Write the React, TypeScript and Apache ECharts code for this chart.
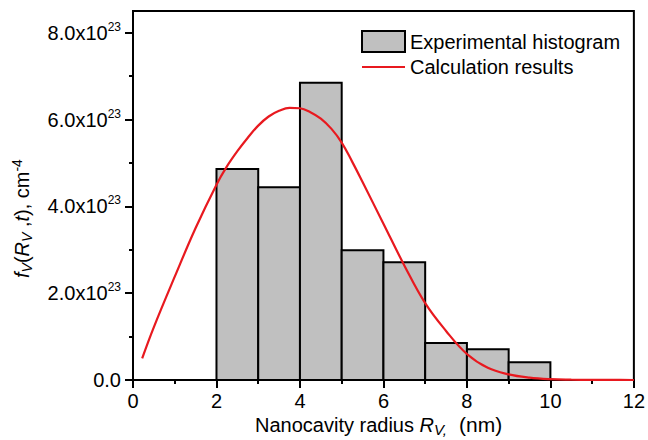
import React, { useEffect, useRef } from "react";
import * as echarts from "echarts";

const FONT = "'Liberation Sans', Arial, Helvetica, sans-serif";

// Histogram bins: [left edge, right edge] in nm, heights in cm^-4
const binStarts = [2, 3, 4, 5, 6, 7, 8, 9];
const binEnds = [3, 4, 5, 6, 7, 8, 9, 10];
const binHeights = [4.86e23, 4.44e23, 6.85e23, 2.99e23, 2.71e23, 0.85e23, 0.71e23, 0.41e23];

// Calculation results curve
const calcX = [0.22, 0.5, 1.0, 1.5, 2.0, 2.25, 2.5, 2.75, 3.0, 3.25, 3.5, 3.75, 4.0, 4.25, 4.5, 4.75, 5.0, 5.25, 5.5, 6.0, 6.5, 7.0, 7.5, 8.0, 8.5, 9.0, 9.5, 10.0, 10.5, 11.0, 11.5, 12.0];
const calcY = [0.5, 1.22, 2.38, 3.5, 4.5, 4.92, 5.27, 5.58, 5.86, 6.07, 6.2, 6.27, 6.26, 6.17, 6.02, 5.79, 5.47, 5.03, 4.56, 3.6, 2.64, 1.77, 1.13, 0.6, 0.28, 0.13, 0.055, 0.02, 0.008, 0.003, 0.001, 0.0].map((v) => v * 1e23);

const yMajorTicks = [0, 2e23, 4e23, 6e23, 8e23];
const yMinorTicks = [1e23, 3e23, 5e23, 7e23];

const histName = "Experimental histogram";
const calcName = "Calculation results";
const RED = "#e8191f";

const richBase = (size: number, italic = false, pad?: number[]) => ({
  fontSize: size,
  fontFamily: FONT,
  fontStyle: italic ? "italic" : "normal",
  fill: "#000",
  color: "#000",
  ...(pad ? { padding: pad } : {}),
});

export default function App() {
  const ref = useRef<HTMLDivElement>(null);
  useEffect(() => {
    if (!ref.current) return;
    const chart = echarts.init(ref.current, null, { renderer: "svg" });
    const histData = binStarts.map((s, i) => [s, binEnds[i], binHeights[i]]);
    const calcData = calcX.map((x, i) => [x, calcY[i]]);
    chart.setOption({
      animation: false,
      textStyle: { fontFamily: FONT, color: "#000" },
      grid: {
        left: 133,
        right: 12,
        top: 11,
        bottom: 60,
        show: true,
        borderColor: "#000",
        borderWidth: 2,
        containLabel: false,
      },
      legend: {
        left: 361,
        top: 30,
        padding: 0,
        orient: "vertical",
        itemWidth: 43,
        itemHeight: 21,
        itemGap: 4,
        textStyle: { fontSize: 20, color: "#000", fontFamily: FONT },
        data: [
          {
            name: histName,
            icon: "rect",
            itemStyle: { color: "#c0c0c0", borderColor: "#000", borderWidth: 2 },
          },
          {
            name: calcName,
            icon: "path://M0,0 L43,0 L43,2.2 L0,2.2 Z",
            itemStyle: { color: RED, borderWidth: 0 },
          },
        ],
      },
      graphic: [
        {
          type: "text",
          left: 255,
          top: 414,
          style: {
            text: "{n|Nanocavity radius }{i|R}{s|V,}{g|(nm)}",
            fontSize: 20,
            fontFamily: FONT,
            fill: "#000",
            rich: {
              n: richBase(20),
              i: richBase(20, true),
              s: richBase(15, true, [9, 0, 0, 0]),
              g: richBase(21, false, [0, 0, 0, 12]),
            },
          },
        },
        {
          type: "text",
          x: 22,
          y: 278,
          rotation: Math.PI / 2,
          style: {
            text: "{i|f}{s|V}{n|(}{i|R}{s|V}{n| ,}{i|t}{n|), cm}{p|-4}",
            fontSize: 20,
            fontFamily: FONT,
            fill: "#000",
            align: "left",
            verticalAlign: "middle",
            rich: {
              n: richBase(20),
              i: richBase(20, true),
              s: richBase(14, true, [9, 0, 0, 0]),
              p: richBase(14, false, [0, 0, 11, 0]),
            },
          },
        },
      ],
      xAxis: {
        type: "value",
        min: 0,
        max: 12,
        interval: 2,
        splitLine: { show: false },
        axisLine: { lineStyle: { color: "#000", width: 2 } },
        axisTick: { show: true, length: 8, inside: false, lineStyle: { color: "#000", width: 2 } },
        minorTick: { show: true, splitNumber: 2, length: 4, lineStyle: { color: "#000", width: 2 } },
        axisLabel: { fontSize: 20, color: "#000", margin: 11, fontFamily: FONT },
      },
      yAxis: [
        {
          type: "value",
          min: 0,
          max: 8.5e23,
          interval: 1e23,
          position: "left",
          splitLine: { show: false },
          axisLine: { lineStyle: { color: "#000", width: 2 } },
          axisTick: {
            show: true,
            length: 8,
            customValues: yMajorTicks,
            lineStyle: { color: "#000", width: 2 },
          },
          axisLabel: {
            customValues: yMajorTicks,
            margin: 12,
            formatter: (v: number) =>
              v === 0 ? "{a|0.0}" : `{a|${(v / 1e23).toFixed(1)}x10}{b|23}`,
            rich: {
              a: { fontSize: 20, fontFamily: FONT, color: "#000" },
              b: { fontSize: 12, fontFamily: FONT, color: "#000", padding: [0, 0, 12, 0] },
            },
          },
        },
        {
          type: "value",
          min: 0,
          max: 8.5e23,
          interval: 1e23,
          position: "left",
          offset: 0,
          splitLine: { show: false },
          axisLine: { show: false },
          axisLabel: { show: false },
          axisTick: {
            show: true,
            length: 4,
            customValues: yMinorTicks,
            lineStyle: { color: "#000", width: 2 },
          },
        },
      ],
      series: [
        {
          name: histName,
          type: "custom",
          xAxisIndex: 0,
          yAxisIndex: 0,
          data: histData,
          encode: { x: [0, 1], y: 2 },
          itemStyle: { color: "#c0c0c0", borderColor: "#000", borderWidth: 2 },
          renderItem: (params: any, api: any) => {
            const x0 = api.value(0);
            const x1 = api.value(1);
            const h = api.value(2);
            const p0 = api.coord([x0, h]);
            const p1 = api.coord([x1, 0]);
            return {
              type: "rect",
              shape: { x: p0[0], y: p0[1], width: p1[0] - p0[0], height: p1[1] - p0[1] },
              style: { fill: "#c0c0c0", stroke: "#000", lineWidth: 2 },
            };
          },
          z: 2,
        },
        {
          name: calcName,
          type: "line",
          xAxisIndex: 0,
          yAxisIndex: 0,
          data: calcData,
          smooth: 0.4,
          symbol: "none",
          lineStyle: { color: RED, width: 2.2 },
          itemStyle: { color: RED },
          z: 3,
        },
      ],
    });
    return () => chart.dispose();
  }, []);
  return (
    <div
      ref={ref}
      style={{ position: "absolute", left: 0, top: 0, width: 648, height: 440 }}
    />
  );
}
